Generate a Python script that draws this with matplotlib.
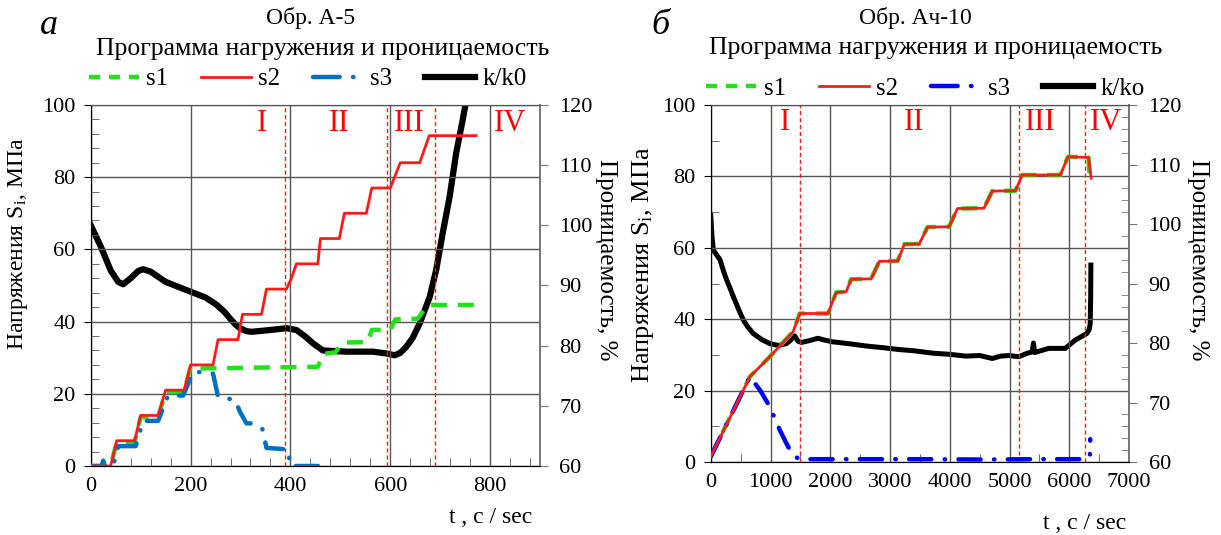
import matplotlib
matplotlib.use("Agg")
import matplotlib.pyplot as plt
from matplotlib.ticker import MultipleLocator
from matplotlib.lines import Line2D

plt.rcParams["font.family"] = ["Liberation Serif", "DejaVu Serif"]
plt.rcParams["mathtext.fontset"] = "custom"
plt.rcParams["mathtext.rm"] = "Liberation Serif"
plt.rcParams["mathtext.it"] = "Liberation Serif:italic"

# --- Обр. А-5 (a) ---
a_s2_t = [0, 40, 52, 88, 100, 135, 150, 187, 200, 245, 255, 295, 304, 342, 352, 392,
          402, 412, 455, 460, 498, 508, 552, 563, 600, 620, 659, 678, 772]
a_s2 = [0, 0, 7, 7, 14, 14, 21, 21, 28, 28, 35, 35, 42, 42, 49, 49,
        52, 56, 56, 63, 63, 70, 70, 77, 77, 84, 84, 91.5, 91.5]

a_s1_t = [0, 40, 52, 88, 100, 135, 150, 187, 200, 215, 455, 465, 490, 505, 555, 563,
          600, 610, 655, 675, 770]
a_s1 = [0, 0, 6.5, 6.5, 13.5, 13.5, 20.5, 20.5, 27.5, 27, 27.5, 31, 31.5, 34.2, 34.3, 37.7,
        37.7, 40.6, 40.8, 44.6, 44.6]

a_s3_t = [0, 22, 25, 28, 45, 55, 90, 105, 135, 155, 185, 205, 218, 245, 255, 289,
          299, 312, 325, 344, 352, 395, 400, 470]
a_s3 = [0, 0, 1.5, 0, 0, 5.5, 5.5, 12.5, 12.5, 19.5, 19.5, 26, 26, 25.6, 19.2, 18.3,
        15, 11.8, 11.8, 10.2, 5, 4.6, 0, 0]

a_k_t = [0, 20, 40, 55, 65, 80, 95, 105, 120, 150, 199, 230, 252, 268, 279, 290, 299,
         312, 322, 360, 392, 412, 430, 445, 465, 512, 565, 592, 609, 620, 632,
         645, 659, 679, 692, 705, 719, 732, 745, 755]
a_k = [100, 96.5, 92.5, 90.6, 90.2, 91.2, 92.4, 92.7, 92.3, 90.6, 89.0, 88.0, 86.8, 85.6,
       84.5, 83.5, 82.9, 82.4, 82.3, 82.6, 82.9, 82.6, 81.5, 80.4, 79.2, 79.0, 79.0, 78.7,
       78.4, 78.8, 79.8, 81.3, 83.7, 88.1, 92.6, 98.7, 104.8, 112.0, 117.5, 122]

a_bounds = [390, 593, 690]
a_stage_t = [343, 498, 639, 839]

# --- Обр. Ач-10 (б) ---
b_s2_t = [0, 655, 989, 1378, 1489, 1961, 2100, 2266, 2350, 2683, 2822, 3128, 3239, 3489,
          3628, 3989, 4128, 4572, 4711, 5100, 5211, 5850, 5978, 6322, 6367]
b_s2 = [1.5, 23.9, 29.5, 36.5, 41.6, 41.6, 47.5, 47.7, 51.2, 51.3, 56.2, 56.3, 61.0, 61.1,
        65.8, 65.9, 71.0, 71.1, 75.9, 76.0, 80.4, 80.4, 85.5, 85.3, 79.5]
b_s1_t = b_s2_t[:-1] + [6330, 6367]
b_s1 = b_s2[:-1] + [82, 78.5]

b_s3_t = [0, 655, 822, 989, 1155, 1294, 1405, 1500, 2500, 3500, 4500, 5500, 6250, 6330,
          6345, 6350]
b_s3 = [1.5, 23.9, 20.2, 15.5, 9.0, 4.3, 1.5, 0.8, 0.8, 0.8, 0.7, 0.8, 0.8, 1.2, 2.0, 6.4]

b_k_t = [0, 20, 44, 100, 155, 210, 266, 320, 378, 460, 544, 620, 711, 850, 989, 1130,
         1266, 1340, 1405, 1460, 1516, 1650, 1794, 1900, 2044, 2300, 2600, 2900, 3155,
         3400, 3711, 4000, 4267, 4500, 4711, 4850, 4989, 5156, 5300, 5378, 5400, 5420,
         5656, 5933, 6100, 6294, 6335, 6350, 6358, 6361]
b_k = [101.5, 98, 95.6, 94.8, 94.0, 92.2, 90.6, 89.3, 87.8, 85.8, 83.9, 82.7, 81.6, 80.6,
       79.9, 79.6, 79.9, 80.5, 81.2, 80.3, 80.1, 80.4, 80.8, 80.5, 80.2, 79.9, 79.5, 79.2,
       78.9, 78.7, 78.3, 78.1, 77.8, 77.9, 77.4, 77.8, 77.9, 77.7, 78.3, 78.5, 80.0, 78.4,
       79.1, 79.1, 80.5, 81.6, 82.3, 83.3, 88.0, 93.1]

b_bounds = [1500, 5150, 6270]
b_stage_t = [1238, 3405, 5520, 6620]

stages = ["I", "II", "III", "IV"]

GREEN = "#22E01A"
RED = "#FF1A1A"
BLUE_A = "#0070C0"
BLUE_B = "#0000FF"


def draw_panel(ax, s1, s2, s3, k, bounds, stage_t, xmax, xmajor, xminor, yminor, blue,
               klw, rminor):
    ax2 = ax.twinx()

    ax.plot(s1[0], s1[1], color=GREEN, lw=3.2, dashes=(3.6, 2.4), zorder=3)
    ax.plot(s2[0], s2[1], color=RED, lw=2.0, zorder=4)
    ax.plot(s3[0], s3[1], color=blue, lw=3.2, dashes=(5, 3, 0.1, 3),
            dash_capstyle="round", zorder=3)
    ax2.plot(k[0], k[1], color="black", lw=klw, zorder=5)

    for b in bounds:
        ax.axvline(b, color=RED, lw=1.0, dashes=(3, 2), zorder=2)
    for st, lab in zip(stage_t, stages):
        ax.text(st, 95, lab, color="red", fontsize=22, ha="center", va="center")

    ax.set_xlim(0, xmax)
    ax.set_ylim(0, 100)
    ax2.set_ylim(60, 120)
    ax.xaxis.set_major_locator(MultipleLocator(xmajor))
    ax.xaxis.set_minor_locator(MultipleLocator(xminor))
    ax.yaxis.set_major_locator(MultipleLocator(20))
    ax.yaxis.set_minor_locator(MultipleLocator(yminor))
    ax2.yaxis.set_major_locator(MultipleLocator(10))
    if rminor:
        ax2.yaxis.set_minor_locator(MultipleLocator(rminor))
        ax2.tick_params(axis="y", which="minor", direction="in", length=6,
                        color="#777777")
    ax.grid(True, which="major", color="#555555", lw=1.0)
    ax.set_axisbelow(True)

    ax.tick_params(axis="x", which="major", length=0, labelsize=16, pad=8)
    ax.tick_params(axis="y", which="major", length=5, labelsize=16, pad=6)
    ax.tick_params(axis="both", which="minor", direction="in", length=6,
                   color="#555555")
    ax2.tick_params(axis="y", which="major", length=6, color="#777777",
                    labelsize=16, pad=8)
    for sp in ("left", "bottom"):
        ax.spines[sp].set_color("black")
    for a in (ax, ax2):
        a.spines["top"].set_color("#555555")
        a.spines["right"].set_color("#777777")
        a.spines["right"].set_linewidth(1.2)

    ax.set_zorder(ax2.get_zorder() + 1)
    ax.patch.set_visible(False)
    return ax2


fig = plt.figure(figsize=(12.21, 5.35), dpi=100)
ax_a = fig.add_axes([0.0743, 0.129, 0.368, 0.6748])
ax_b = fig.add_axes([0.5821, 0.1364, 0.3426, 0.6673])

draw_panel(ax_a, (a_s1_t, a_s1), (a_s2_t, a_s2), (a_s3_t, a_s3), (a_k_t, a_k),
           a_bounds, a_stage_t, 900, 200, 40, 4, BLUE_A, 4.5, None)
draw_panel(ax_b, (b_s1_t, b_s1), (b_s2_t, b_s2), (b_s3_t, b_s3), (b_k_t, b_k),
           b_bounds, b_stage_t, 7000, 1000, 500, 10, BLUE_B, 3.6, 2)

# подписи осей
ylab = "Напряжения S$_\\mathrm{i}$, МПа"
fig.text(18 / 1221, 1 - 244 / 535, ylab, fontsize=17, rotation=90,
         ha="center", va="center")
fig.text(643 / 1221, 1 - 265 / 535, ylab, fontsize=19, rotation=90,
         ha="center", va="center")
fig.text(606 / 1221, 1 - 260 / 535, "Проницаемость, %", fontsize=18, rotation=270,
         ha="center", va="center")
fig.text(1198 / 1221, 1 - 260 / 535, "Проницаемость, %", fontsize=18, rotation=270,
         ha="center", va="center")

# заголовки
fig.text(0.254, 0.966, "Обр. А-5", fontsize=17, ha="center", va="center")
fig.text(0.264, 0.908, "Программа нагружения и проницаемость", fontsize=18.5,
         ha="center", va="center")
fig.text(0.750, 0.966, "Обр. Ач-10", fontsize=17, ha="center", va="center")
fig.text(0.766, 0.910, "Программа нагружения и проницаемость", fontsize=18.5,
         ha="center", va="center")
fig.text(0.040, 0.953, "a", fontsize=26, style="italic", ha="center", va="center")
fig.text(0.541, 0.953, "б", fontsize=26, style="italic", ha="center", va="center")

fig.text(0.402, 0.032, "t , c / sec", fontsize=17, ha="center", va="center")
fig.text(0.888, 0.022, "t , c / sec", fontsize=17, ha="center", va="center")


def legend_handles(blue):
    return [
        Line2D([], [], color=GREEN, lw=3.2, dashes=(2.5, 2.0)),
        Line2D([], [], color=RED, lw=2.0),
        Line2D([], [], color=blue, lw=3.2, dashes=(6, 3, 0.1, 3), dash_capstyle="round"),
        Line2D([], [], color="black", lw=4.5),
    ]


fig.legend(legend_handles(BLUE_A), ["s1", "s2", "s3", "k/k0"], loc="center",
           bbox_to_anchor=(0.252, 0.852), ncol=4, frameon=False, fontsize=18,
           handlelength=2.0, handletextpad=0.3, columnspacing=1.3)
fig.legend(legend_handles(BLUE_B), ["s1", "s2", "s3", "k/ko"], loc="center",
           bbox_to_anchor=(0.758, 0.834), ncol=4, frameon=False, fontsize=18,
           handlelength=2.0, handletextpad=0.3, columnspacing=1.3)

fig.savefig("out.png", dpi=100)
